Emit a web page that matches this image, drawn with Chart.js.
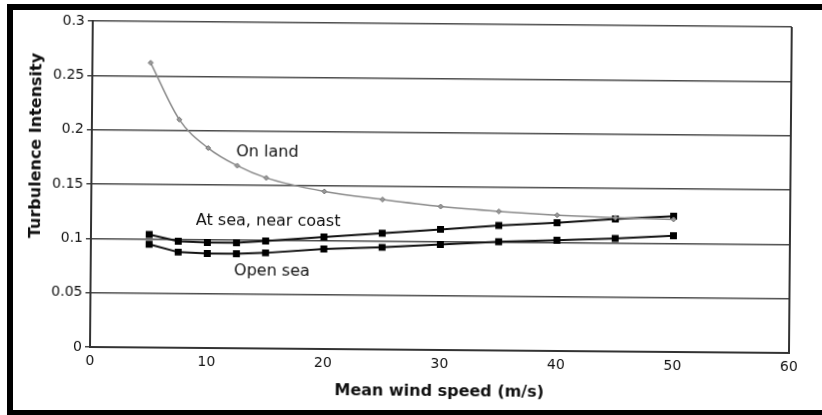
<!DOCTYPE html>
<html>
<head>
<meta charset="utf-8">
<script src="https://cdn.jsdelivr.net/npm/chart.js@4/dist/chart.umd.min.js"></script>
<style>
  html, body { margin: 0; padding: 0; background: #fff; }
  #wrap { position: relative; width: 822px; height: 415px; overflow: hidden; }
  #chart { position: absolute; left: 0; top: 0; transform: rotate(0.49deg); transform-origin: 90px 347px; }
  #frame {
    position: absolute; left: 7px; top: 4px; width: 900px; height: 400px;
    border-top: 6px solid #000; border-left: 6px solid #000; border-bottom: 6px solid #000;
    pointer-events: none;
  }
</style>
</head>
<body>
<div id="wrap">
  <canvas id="chart" width="822" height="415"></canvas>
  <div id="frame"></div>
</div>
<script>
// Values
const windSpeed = [5, 7.5, 10, 12.5, 15, 20, 25, 30, 35, 40, 45, 50];
const onLand    = [0.262, 0.210, 0.184, 0.168, 0.157, 0.145, 0.138, 0.132, 0.128, 0.125, 0.123, 0.122];
const nearCoast = [0.104, 0.098, 0.097, 0.097, 0.099, 0.103, 0.107, 0.111, 0.115, 0.118, 0.122, 0.125];
const openSea   = [0.095, 0.088, 0.087, 0.087, 0.088, 0.092, 0.094, 0.097, 0.100, 0.102, 0.104, 0.107];

const yTickLabels = ["0", "0.05", "0.1", "0.15", "0.2", "0.25", "0.3"];
const xTickLabels = ["0", "10", "20", "30", "40", "50", "60"];

// text labels placed next to the curves (data coords)
const curveLabels = [
  { text: "On land", x: 12.4, y: 0.1805 },
  { text: "At sea, near coast", x: 9.0, y: 0.117 },
  { text: "Open sea", x: 12.3, y: 0.071 }
];

const xTitle = "Mean wind speed (m/s)";
const yTitle = "Turbulence Intensity";

function pts(ys) {
  return windSpeed.map((x, i) => ({ x: x, y: ys[i] }));
}

// draws right border, axis titles and curve labels
const extras = {
  id: "extras",
  afterDraw(chart) {
    const ctx = chart.ctx;
    const a = chart.chartArea;
    const sx = chart.scales.x, sy = chart.scales.y;
    ctx.save();
    ctx.strokeStyle = "#333";
    ctx.lineWidth = 2;
    ctx.beginPath();
    ctx.moveTo(a.right, a.top);
    ctx.lineTo(a.right, a.bottom);
    ctx.stroke();

    ctx.fillStyle = "#111";
    ctx.font = "16px 'DejaVu Sans'";
    ctx.textAlign = "left";
    ctx.textBaseline = "middle";
    curveLabels.forEach(l => {
      ctx.fillText(l.text, sx.getPixelForValue(l.x), sy.getPixelForValue(l.y));
    });

    ctx.font = "bold 16px 'DejaVu Sans'";
    ctx.textAlign = "center";
    ctx.fillText(xTitle, (a.left + a.right) / 2, 389);

    ctx.translate(35, 146);
    ctx.rotate(-Math.PI / 2);
    ctx.fillText(yTitle, 0, 0);
    ctx.restore();
  }
};

new Chart(document.getElementById("chart"), {
  type: "line",
  data: {
    datasets: [
      {
        label: "On land",
        data: pts(onLand),
        borderColor: "#8a8a8a",
        borderWidth: 1.5,
        cubicInterpolationMode: "monotone",
        pointStyle: "rectRot",
        pointRadius: 2.5,
        pointBackgroundColor: "#999",
        pointBorderColor: "#777",
        pointBorderWidth: 1
      },
      {
        label: "At sea, near coast",
        data: pts(nearCoast),
        borderColor: "#111",
        borderWidth: 2,
        tension: 0,
        pointStyle: "rect",
        pointRadius: 3.5,
        pointBackgroundColor: "#000",
        pointBorderColor: "#000"
      },
      {
        label: "Open sea",
        data: pts(openSea),
        borderColor: "#111",
        borderWidth: 2,
        tension: 0,
        pointStyle: "rect",
        pointRadius: 3.5,
        pointBackgroundColor: "#000",
        pointBorderColor: "#000"
      }
    ]
  },
  options: {
    responsive: false,
    animation: false,
    layout: { padding: { left: 0, top: 21, right: 33, bottom: 0 } },
    plugins: { legend: { display: false }, tooltip: { enabled: false } },
    scales: {
      x: {
        type: "linear",
        min: 0, max: 60,
        afterFit: s => { s.height = 68; },
        afterBuildTicks: s => { s.ticks = xTickLabels.map(t => ({ value: Number(t) })); },
        ticks: {
          callback: (v, i) => xTickLabels[i],
          color: "#111",
          font: { family: "DejaVu Sans", size: 14 },
          padding: 6,
          maxRotation: 0
        },
        grid: { drawOnChartArea: false, drawTicks: false },
        border: { color: "#333", width: 2 }
      },
      y: {
        min: 0, max: 0.3,
        afterFit: s => { s.width = 90; },
        afterBuildTicks: s => { s.ticks = yTickLabels.map(t => ({ value: Number(t) })); },
        ticks: {
          callback: (v, i) => yTickLabels[i],
          color: "#111",
          font: { family: "DejaVu Sans", size: 14 },
          padding: 3
        },
        grid: { color: "#4a4a4a", lineWidth: 1.5, tickLength: 5 },
        border: { color: "#333", width: 2 }
      }
    }
  },
  plugins: [extras]
});
</script>
</body>
</html>
